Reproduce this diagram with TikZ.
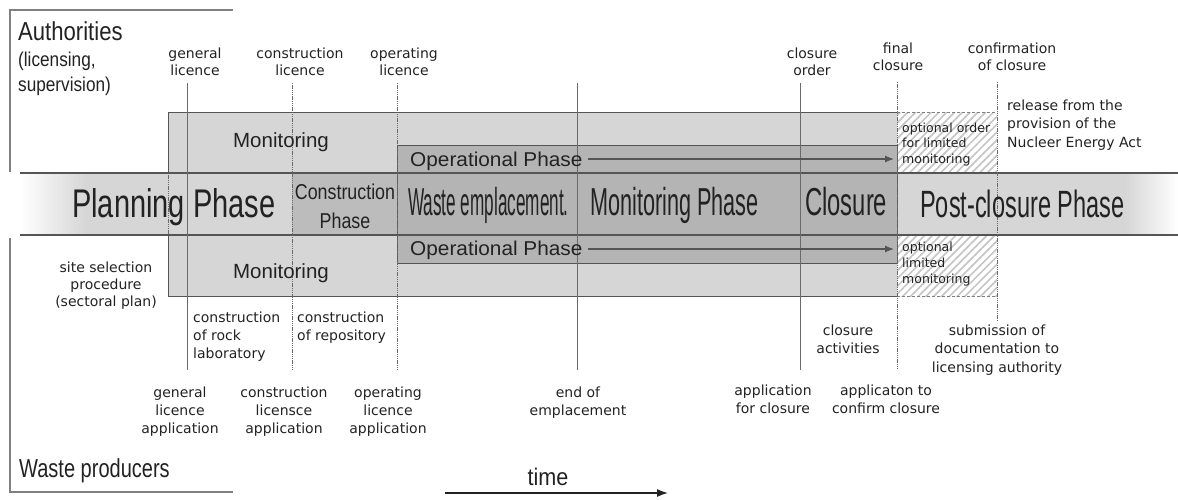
\documentclass[tikz,border=0pt]{standalone}
\usepackage{fontspec}
\usepackage{graphicx}
\setmainfont{Liberation Sans}
\newfontfamily\labfont{DejaVu Sans}
\usetikzlibrary{arrows.meta,patterns.meta}
\definecolor{lightfill}{HTML}{D6D6D6}
\definecolor{midfill}{HTML}{B4B4B4}
\definecolor{constrfill}{HTML}{BCBCBC}
\definecolor{edge}{HTML}{555555}
\definecolor{evgray}{HTML}{6A6A6A}
\definecolor{ink}{HTML}{222222}
% horizontal condensing of a piece of text
\newcommand\sx[2]{\scalebox{#1}[1]{#2}}
\newcommand\st{\strut}
\begin{document}
\begin{tikzpicture}[x=1pt,y=-1pt,
  lbl/.style={font=\labfont\fontsize{14}{17}\selectfont, align=center, inner sep=0pt, anchor=north, text=ink},
  lblw/.style={lbl, font=\labfont\fontsize{14}{18}\selectfont},
  lblr/.style={lbl, font=\labfont\fontsize{14}{18.5}\selectfont},
  hatchtxt/.style={font=\labfont\fontsize{12.5}{15.5}\selectfont, align=left, inner sep=0pt, anchor=north west, text=ink},
  big/.style={inner sep=0pt, anchor=base west, text=ink},
  frame/.style={draw=gray, line width=1.2pt},
  boxedge/.style={draw=edge, line width=0.9pt},
  bandline/.style={draw=edge, line width=1.3pt},
  evline/.style={draw=evgray, line width=0.9pt},
  evdot/.style={evline, dash pattern=on 1.3pt off 0.9pt},
  oparrow/.style={draw=edge, line width=1.2pt, -{Latex[length=9pt,width=7pt]}},
  hatchbox/.style={fill=white, pattern={Lines[angle=45,distance=5.5pt,line width=1.7pt]}, pattern color=gray!45},
]
\useasboundingbox (0,0) rectangle (1178,499);

% side brackets of the two parties
\draw[frame] (233,10) -- (10,10) -- (10,172);
\draw[frame] (10,238) -- (10,492) -- (233,492);

% monitoring areas above and below the time band
\path[fill=lightfill] (168,112) rectangle (897,173);
\path[fill=lightfill] (168,235) rectangle (897,296);
\draw[boxedge] (168,173) -- (168,112) -- (897,112);
\draw[boxedge] (168,235) -- (168,296) -- (897,296);

% optional limited monitoring (hatched)
\path[hatchbox] (897,112) rectangle (997,173);
\path[hatchbox] (897,235) rectangle (997,296);
\draw[draw=gray, line width=0.8pt, densely dashed] (897,112) -- (997,112);
\draw[draw=gray, line width=0.8pt, densely dashed] (897,296) -- (997,296);

% operational phase bars
\draw[boxedge, fill=midfill] (397,145) rectangle (897,173);
\draw[boxedge, fill=midfill] (397,235) rectangle (897,263);

% the time band
\shade[left color=white, right color=lightfill] (20,173) rectangle (86,235);
\path[fill=lightfill] (85,173) rectangle (292,235);
\path[fill=constrfill] (292,173) rectangle (397,235);
\path[fill=midfill] (397,173) rectangle (897,235);
\path[fill=lightfill] (897,173) rectangle (1126,235);
\shade[left color=lightfill, right color=white] (1125,173) rectangle (1178,235);
\draw[boxedge] (397,173) -- (397,235);
\draw[boxedge] (897,173) -- (897,235);
\draw[evdot] (168,173) -- (168,235);
\draw[bandline] (20,173) -- (1178,173);
\draw[bandline] (20,235) -- (1178,235);

% event lines
\coordinate (gl-t) at (187,83);  \coordinate (gl-b) at (187,370);
\coordinate (cl-t) at (292,83);  \coordinate (cl-b) at (292,370);
\coordinate (ol-t) at (397,83);  \coordinate (ol-b) at (397,370);
\coordinate (ee-t) at (577,83);  \coordinate (ee-b) at (577,370);
\coordinate (co-t) at (800,83);  \coordinate (co-b) at (800,370);
\coordinate (fc-t) at (897,82);  \coordinate (fc-b) at (897,370);
\coordinate (cc-t) at (997,82);  \coordinate (cc-b) at (997,320);
\draw[evline] (gl-t) -- (gl-b);
\draw[evdot] (cl-t) -- (cl-b);
\draw[evdot] (ol-t) -- (ol-b);
\draw[evline] (ee-t) -- (ee-b);
\draw[evline] (co-t) -- (co-b);
\draw[evdot] (fc-t) -- (fc-b);
\draw[evdot] (cc-t) -- (cc-b);

% operational phase arrows
\coordinate (opu-s) at (588,159); \coordinate (opu-e) at (894,159);
\coordinate (opl-s) at (588,249); \coordinate (opl-e) at (894,249);
\draw[oparrow] (opu-s) -- (opu-e);
\draw[oparrow] (opl-s) -- (opl-e);

% time arrow
\coordinate (time-s) at (445,493); \coordinate (time-e) at (668,493);
\draw[draw=ink, line width=1.5pt, -{Latex[length=11pt,width=8pt]}] (time-s) -- (time-e);

% party names
\node[big, font=\fontsize{26}{30}\selectfont] (auth) at (18,40) {\sx{0.85}{Authorities}};
\node[big, anchor=north west, align=left, font=\fontsize{20}{25}\selectfont] (authsub) at (18,48.5)
  {\st\sx{0.86}{(licensing,}\\\st\sx{0.86}{supervision)}};
\node[big, font=\fontsize{26}{30}\selectfont] (prod) at (19,477) {\sx{0.77}{Waste producers}};
\node[big, anchor=base, font=\fontsize{24}{28}\selectfont] (time) at (548,485) {\sx{0.9}{time}};

% texts in the monitoring and operational bars
\node[big, anchor=base, font=\fontsize{20.5}{24}\selectfont] (monu) at (281,147) {Monitoring};
\node[big, anchor=base, font=\fontsize{20.5}{24}\selectfont] (monl) at (281,278) {Monitoring};
\node[big, font=\fontsize{20}{24}\selectfont] (opu) at (410,166) {\sx{1.04}{Operational Phase}};
\node[big, font=\fontsize{20}{24}\selectfont] (opl) at (410,255) {\sx{1.04}{Operational Phase}};
\node[hatchtxt] (optu) at (902,121.2) {\st optional order\\\st for limited\\\st monitoring};
\node[hatchtxt, font=\labfont\fontsize{12.5}{16}\selectfont] (optl) at (902,239.8) {\st optional\\\st limited\\\st monitoring};

% phase names in the band
\node[big, font=\fontsize{40}{44}\selectfont] (plan) at (72,217) {\sx{0.725}{Planning Phase}};
\node[big, anchor=north, align=center, font=\fontsize{21.5}{29}\selectfont] (constr) at (345,178.7)
  {\st\sx{0.83}{Construction}\\\st\sx{0.83}{Phase}};
\node[big, font=\fontsize{39}{43}\selectfont] (waste) at (408,215) {\sx{0.44}{Waste emplacement.}};
\node[big, font=\fontsize{39}{43}\selectfont] (monph) at (590,215) {\sx{0.555}{Monitoring Phase}};
\node[big, font=\fontsize{39}{43}\selectfont] (clos) at (805,215) {\sx{0.61}{Closure}};
\node[big, font=\fontsize{38}{42}\selectfont] (post) at (920,217) {\sx{0.62}{Post-closure Phase}};

% authority events
\node[lbl] (genlic) at (195,46.1) {\st general\\\st licence};
\node[lbl] (conlic) at (300,46.1) {\st construction\\\st licence};
\node[lbl] (oplic) at (404,46.1) {\st operating\\\st licence};
\node[lbl] (closord) at (812,46.1) {\st closure\\\st order};
\node[lbl] (finclos) at (898,41.1) {\st final\\\st closure};
\node[lbl] (confclos) at (1012,41.1) {\st confirmation\\\st of closure};
\node[lblr, anchor=north west, align=left] (release) at (1007,97)
  {\st release from the\\\st provision of the\\\st Nucleer Energy Act};

% producer events
\node[lbl] (site) at (106,260.1) {\st site selection\\\st procedure\\\st (sectoral plan)};
\node[lblw, anchor=north west, align=left] (rocklab) at (193,309.4) {\st construction\\\st of rock\\\st laboratory};
\node[lblw, anchor=north west, align=left] (repo) at (297,309.4) {\st construction\\\st of repository};
\node[lblw] (genapp) at (180,384.4) {\st general\\\st licence\\\st application};
\node[lblw] (conapp) at (284,384.4) {\st construction\\\st licensce\\\st application};
\node[lblw] (opapp) at (388,384.4) {\st operating\\\st licence\\\st application};
\node[lblw] (endemp) at (578,384.4) {\st end of\\\st emplacement};
\node[lblw] (appclos) at (773,382.4) {\st application\\\st for closure};
\node[lblw] (closact) at (848,322.4) {\st closure\\\st activities};
\node[lblw] (appconf) at (886,382.4) {\st applicaton to\\\st confirm closure};
\node[lblr] (submis) at (997,322) {\st submission of\\\st documentation to\\\st licensing authority};
\end{tikzpicture}
\end{document}
